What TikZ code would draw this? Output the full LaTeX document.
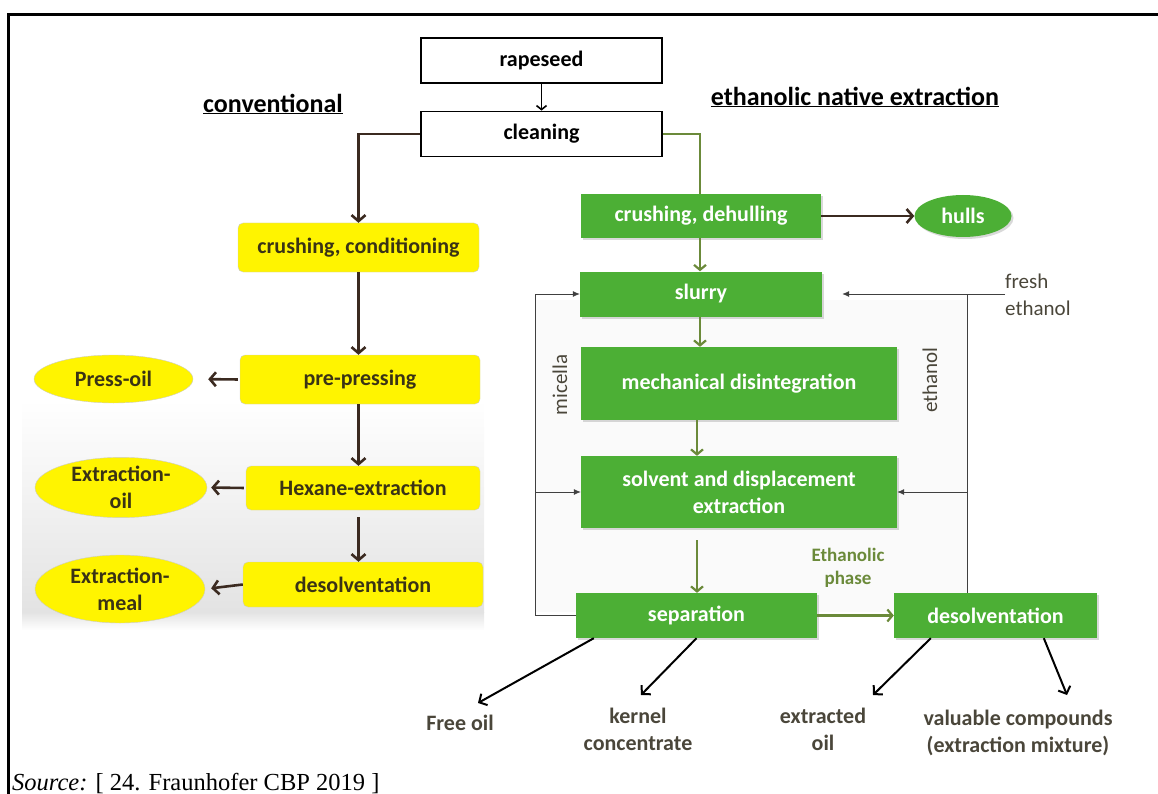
\documentclass[tikz,border=0pt]{standalone}
\usepackage{fontspec}
\setmainfont{Carlito}
\newfontfamily\srcfont{Liberation Serif}
\usetikzlibrary{arrows.meta, positioning, calc, shapes.geometric, shadows}
\definecolor{boxgreen}{HTML}{4CAF35}
\definecolor{flowgreen}{HTML}{6B8A3A}
\definecolor{flowbrown}{HTML}{3B2A20}
\definecolor{boxyellow}{HTML}{FFF400}
\definecolor{convtext}{HTML}{3A3315}
\definecolor{outtext}{HTML}{4A463A}

\begin{document}
\begin{tikzpicture}[x=1pt, y=-1pt,
    every node/.style={font=\fontsize{22}{27}\selectfont\bfseries, inner sep=0pt},
    topbox/.style={draw=black, line width=1.8pt, minimum width=241pt, minimum height=45pt},
    convbox/.style={draw=gray!40, fill=boxyellow, rounded corners=5pt, text=convtext, minimum height=47pt},
    prodoval/.style={ellipse, draw=gray!40, fill=boxyellow, text=convtext, align=center},
    greenbox/.style={fill=boxgreen, text=white, align=center,
        drop shadow={shadow xshift=2pt, shadow yshift=-2pt, opacity=0.3}},
    outlabel/.style={text=outtext, align=center},
    looplabel/.style={font=\fontsize{21}{27}\selectfont, text=outtext},
    brownflow/.style={draw=flowbrown, line width=2.6pt, -{Straight Barb[length=6pt, width=14pt]}},
    greenflow/.style={draw=flowgreen, line width=2.2pt, -{Straight Barb[length=5pt, width=12pt]}},
    loopline/.style={draw=black!75, line width=0.8pt},
    looparrow/.style={loopline, -{Latex[length=7pt, width=6pt]}},
    outflow/.style={draw=black, line width=2pt, -{Straight Barb[length=6pt, width=13pt]}}
  ]
    \useasboundingbox (0,0) rectangle (1158,794);

    % Frame
    \draw[line width=3pt] (8,794) -- (8,15) -- (1158,15);

    % Shading behind the conventional line
    \shade[top color=white, bottom color=gray!22] (22,400) rectangle (484,612);
    \shade[top color=gray!22, bottom color=white] (22,612) rectangle (484,630);
    \fill[gray!4] (535,300) rectangle (967,612);

    % Headings
    \node (conv) at (273,104) {\fontsize{26}{30}\selectfont\underline{conventional}};
    \node (enat) at (855,97) {\fontsize{26}{30}\selectfont\underline{ethanolic native extraction}};

    % Common steps
    \node[topbox] (rapeseed) at (541.5,60.5) {rapeseed};
    \node[topbox] (cleaning) at (541.5,134) {cleaning};
    \draw[line width=1.6pt, -{Straight Barb[length=4pt, width=10pt]}] (rapeseed) -- (cleaning);

    % Conventional
    \node[convbox, minimum width=241pt, minimum height=49pt] (crushcond) at (358.5,247.5) {crushing, conditioning};
    \node[convbox, minimum width=240pt, minimum height=49pt] (prepress) at (360,379.5) {pre-pressing};
    \node[convbox, minimum width=234pt, minimum height=44pt] (hexane) at (363,488) {Hexane-extraction};
    \node[convbox, minimum width=240pt, minimum height=45pt] (desolvconv) at (363,584.5) {desolventation};
    \node[prodoval, minimum width=159pt, minimum height=48pt] (pressoil) at (113.5,379) {Press-oil};
    \node[prodoval, minimum width=172pt, minimum height=59pt] (extroil) at (121,487.5) {Extraction-\\oil};
    \node[prodoval, minimum width=170pt, minimum height=68pt] (extrmeal) at (120,589) {Extraction-\\meal};

    \coordinate (cvx) at (358.5,0);
    \draw[brownflow] (cleaning.west) -| (crushcond.north);
    \draw[brownflow] (crushcond.south) -- (cvx |- prepress.north);
    \draw[brownflow] (cvx |- prepress.south) -- (cvx |- hexane.north);
    \draw[brownflow, shorten <=7pt] (cvx |- hexane.south) -- (cvx |- desolvconv.north);
    \draw[brownflow, shorten <=2pt, shorten >=15pt] (prepress.west) -- (pressoil.east);
    \draw[brownflow, shorten <=2pt, shorten >=4pt] (hexane.west) -- (extroil.east);
    \draw[brownflow, shorten <=0pt, shorten >=6pt] (desolvconv.west) -- (extrmeal.east);

    % Ethanolic native extraction
    \node[greenbox, minimum width=240pt, minimum height=44pt] (crushdehull) at (701,216) {crushing, dehulling};
    \node[greenbox, ellipse, minimum width=97pt, minimum height=42pt] (hulls) at (963,216) {hulls};
    \node[greenbox, minimum width=242pt, minimum height=45pt] (slurry) at (701,294) {slurry};
    \node[greenbox, minimum width=316pt, minimum height=73pt] (mechdis) at (739,383.5) {mechanical disintegration};
    \node[greenbox, minimum width=316pt, minimum height=72pt] (solvext) at (739,492) {solvent and displacement\\extraction};
    \node[greenbox, minimum width=241pt, minimum height=45pt] (separation) at (696.5,615.5) {separation};
    \node[greenbox, minimum width=203pt, minimum height=45pt] (desolveth) at (995.5,615.5) {desolventation};

    \coordinate (gx) at (700,0);
    \coordinate (sx) at (697,0);
    \draw[draw=flowgreen, line width=2.2pt] (cleaning.east) -| (gx |- crushdehull.north);
    \draw[brownflow] (crushdehull.east) -- (hulls.west);
    \draw[greenflow] (gx |- crushdehull.south) -- (gx |- slurry.north);
    \draw[greenflow] (gx |- slurry.south) -- (gx |- mechdis.north);
    \draw[greenflow] (sx |- mechdis.south) -- (sx |- solvext.north);
    \draw[greenflow, shorten <=12pt] (sx |- solvext.south) -- (sx |- separation.north);
    \draw[greenflow] (separation.east) -- (desolveth.west);
    \node[text=flowgreen, align=center, font=\fontsize{19}{23}\selectfont\bfseries] (ethphase) at (848,568) {Ethanolic\\phase};

    % Micella loop
    \coordinate (mlx) at (535,0);
    \draw[loopline] (separation.west) -- (mlx |- separation.west) -- (mlx |- slurry.west);
    \draw[looparrow] (mlx |- slurry.west) -- (slurry.west);
    \draw[looparrow] (mlx |- solvext.west) -- (solvext.west);
    \node[rotate=90, looplabel] (micella) at (560,385) {micella};

    % Ethanol loop
    \coordinate (elx) at (967,0);
    \coordinate (fresh) at (1005,294);
    \draw[looparrow, shorten >=20pt] (fresh) -- (slurry.east);
    \draw[loopline] (elx |- desolveth.north) -- (elx |- fresh);
    \draw[looparrow] (elx |- solvext.east) -- (solvext.east);
    \node[rotate=90, looplabel] (ethanol) at (930,380) {ethanol};
    \node[anchor=west, align=left, looplabel] (freshlbl) at (1005,295) {fresh\\ethanol};

    % Products
    \node[outlabel] (freeoil) at (460,723) {Free oil};
    \node[outlabel] (kernel) at (638,729) {kernel\\concentrate};
    \node[outlabel] (extoil) at (823,729) {extracted\\oil};
    \node[outlabel] (valcomp) at (1018,733) {valuable compounds\\(extraction mixture)};
    \coordinate (fo) at (478,703);
    \coordinate (kc) at (641,695);
    \coordinate (eo) at (873,695);
    \coordinate (vc) at (1067,695);
    \draw[outflow] ($(separation.south west)+(18,0)$) -- (fo);
    \draw[outflow] (separation.south) -- (kc);
    \draw[outflow] ($(desolveth.south west)+(37,0)$) -- (eo);
    \draw[outflow] ($(desolveth.south west)+(150,0)$) -- (vc);

    % Source
    \node[anchor=base west, font=\srcfont\fontsize{24.5}{28}\selectfont] (src) at (12,790) {\textit{Source:} [ 24. Fraunhofer CBP 2019 ]};
\end{tikzpicture}
\end{document}
